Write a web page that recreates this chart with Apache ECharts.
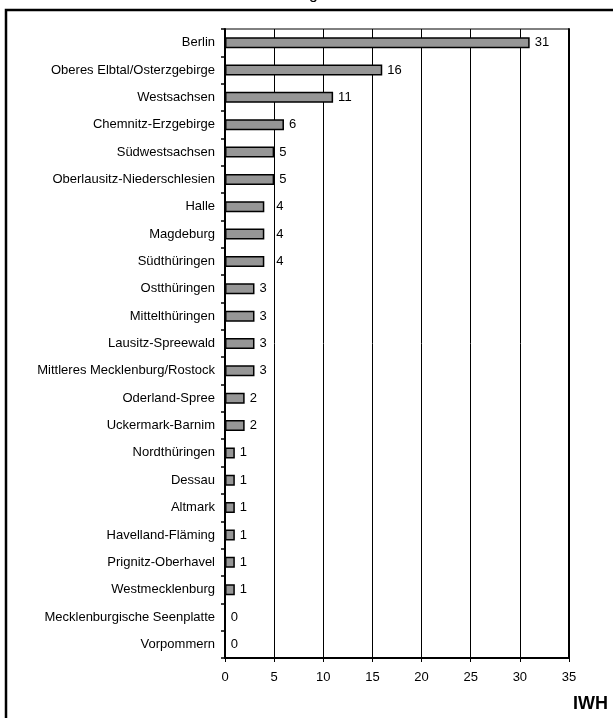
<!DOCTYPE html>
<html>
<head>
<meta charset="utf-8">
<script src="https://cdn.jsdelivr.net/npm/echarts@6/dist/echarts.min.js"></script>
<style>html,body{margin:0;padding:0;background:#fff;}#c{width:613px;height:718px;}</style>
</head>
<body>
<div id="c"></div>
<script>
const categories = ["Berlin","Oberes Elbtal/Osterzgebirge","Westsachsen","Chemnitz-Erzgebirge","Südwestsachsen","Oberlausitz-Niederschlesien","Halle","Magdeburg","Südthüringen","Ostthüringen","Mittelthüringen","Lausitz-Spreewald","Mittleres Mecklenburg/Rostock","Oderland-Spree","Uckermark-Barnim","Nordthüringen","Dessau","Altmark","Havelland-Fläming","Prignitz-Oberhavel","Westmecklenburg","Mecklenburgische Seenplatte","Vorpommern"];
const values = [31,16,11,6,5,5,4,4,4,3,3,3,3,2,2,1,1,1,1,1,1,0,0];
const xTicks = [0,5,10,15,20,25,30,35];

const chart = echarts.init(document.getElementById('c'), null, {renderer:'canvas'});
const font = 'Liberation Sans, Arial, sans-serif';
const barData = values.map(v => v === 4 ? {value: v, label: {distance: 12}} : v);
chart.setOption({
  animation: false,
  textStyle: {fontFamily: font},
  grid: {left: 225, right: 44, top: 29, bottom: 60, show: true, borderColor: '#000', borderWidth: 1},
  xAxis: {
    type: 'value', min: xTicks[0], max: xTicks[xTicks.length-1], interval: 5,
    axisLine: {show: true, lineStyle: {color: '#000', width: 2}},
    axisTick: {show: true, length: 4, lineStyle: {color: '#000'}},
    axisLabel: {color: '#000', fontSize: 13, fontFamily: font, margin: 13},
    splitLine: {show: true, lineStyle: {color: '#000', width: 1}}
  },
  yAxis: [{
    type: 'category', data: categories, inverse: true,
    axisLine: {show: true, lineStyle: {color: '#000', width: 2}},
    axisTick: {show: true, length: 4, lineStyle: {color: '#000', width: 1.5}},
    axisLabel: {color: '#000', fontSize: 13, fontFamily: font, margin: 10}
  },{
    type: 'category', data: categories, inverse: true, position: 'right',
    axisLine: {show: true, lineStyle: {color: '#000', width: 2}},
    axisTick: {show: false}, axisLabel: {show: false}
  }],
  series: [{
    type: 'bar', data: barData, barWidth: 11,
    itemStyle: {color: '#969696', borderColor: '#000', borderWidth: 1.5},
    label: {show: true, position: 'right', distance: 5, color: '#000', fontSize: 13, fontFamily: font}
  }],
  graphic: [
    {type: 'rect', shape: {x: 6, y: 10, width: 800, height: 900}, style: {fill: 'none', stroke: '#000', lineWidth: 2.5}, silent: true},
    {type: 'text', left: 573, top: 695, style: {text: 'IWH', font: 'bold 18px ' + font, fill: '#000'}},
    {type: 'text', left: 309, top: -13, style: {text: 'g', font: '16px ' + font, fill: '#000'}}
  ]
});
</script>
</body>
</html>
